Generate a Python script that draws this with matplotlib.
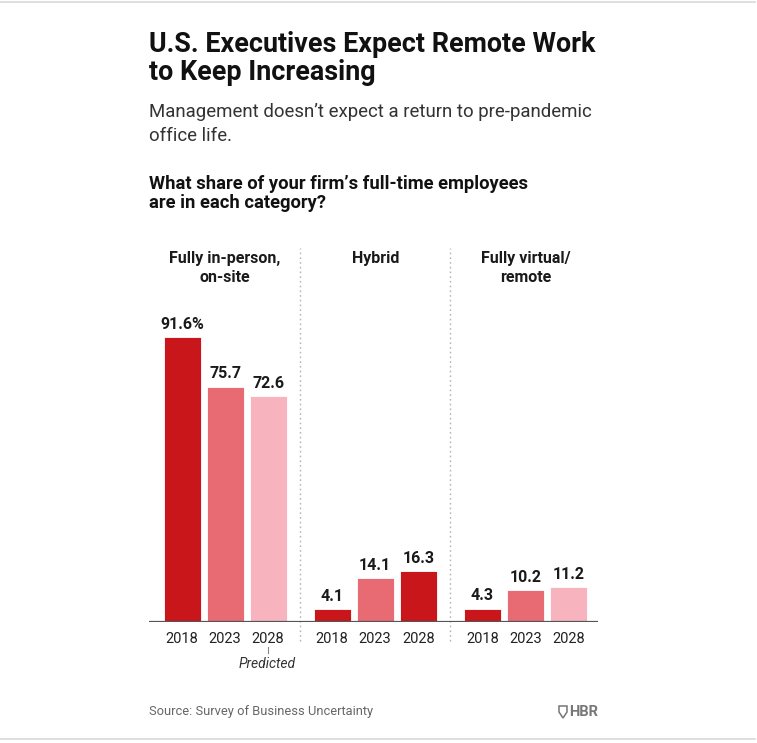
import numpy as np
import matplotlib
matplotlib.use("Agg")
import matplotlib.pyplot as plt
from matplotlib.patches import Polygon
from matplotlib.lines import Line2D

# data
categories = ["Fully in-person,\non-site", "Hybrid", "Fully virtual/\nremote"]
years = ["2018", "2023", "2028"]
values = [
    [91.6, 75.7, 72.6],
    [4.1, 14.1, 16.3],
    [4.3, 10.2, 11.2],
]
value_labels = [
    ["91.6%", "75.7", "72.6"],
    ["4.1", "14.1", "16.3"],
    ["4.3", "10.2", "11.2"],
]

DARK = "#c8161a"
MID = "#e86a72"
LIGHT = "#f7b4be"
bar_colors = [
    [DARK, MID, LIGHT],
    [DARK, MID, DARK],
    [DARK, MID, LIGHT],
]

W, H = 757, 743
plt.rcParams["font.family"] = ["Roboto", "DejaVu Sans"]

def fx(px):
    return px / W

def fy(py):
    return 1 - py / H

fig = plt.figure(figsize=(W / 100, H / 100), dpi=100)

# axes: baseline at y=622 px, x from 149 to 598 px
ax = fig.add_axes([fx(149), fy(622), 449 / W, 382 / H])
ax.set_xlim(-0.77, 9.67)
ax.set_ylim(0, 382 / 3.11)
for s in ax.spines.values():
    s.set_visible(False)
ax.set_yticks([])

group_step = 3.49
width = 0.86
centers = []
for g in range(len(categories)):
    xs = g * group_step + np.arange(len(years))
    centers.extend(xs)
    ax.bar(xs, values[g], width=width, color=bar_colors[g],
           edgecolor="white", linewidth=0.6, zorder=2)
    for x, v, lab in zip(xs, values[g], value_labels[g]):
        ax.annotate(lab, (x, v), xytext=(0, 4), textcoords="offset points",
                    ha="center", va="bottom", fontsize=11.5,
                    fontweight="bold", color="#1a1a1a")
    ax.text(g * group_step + 1, (622 - 251) / 3.11, categories[g],
            ha="center", va="top", fontsize=11.5, fontweight="bold",
            color="#1a1a1a", linespacing=1.3)

ax.set_xticks(centers, labels=years * len(categories))
ax.tick_params(axis="x", length=0, pad=7, labelsize=10.5, labelcolor="#222222")
ax.axhline(0, color="#555555", lw=1.6, zorder=3)

# dotted separators between groups
sep_x = [2 + (group_step - 2) / 2, group_step + 2 + (group_step - 2) / 2]
ax.vlines(sep_x, -19 / 3.11, (622 - 248) / 3.11, colors="#b5b5b5",
          linestyles=(0, (1.2, 2.2)), lw=1, clip_on=False)

# "Predicted" note under the first 2028 tick
fig.add_artist(Line2D([fx(267.5), fx(267.5)], [fy(647), fy(653)],
                      color="#888888", lw=0.8))
fig.text(fx(267.5), fy(664), "Predicted", ha="center", va="center",
         fontsize=10, style="italic", color="#333333")

# titles
fig.text(fx(149), fy(58.5), "U.S. Executives Expect Remote Work\nto Keep Increasing",
         ha="left", va="center", fontsize=19.4, fontweight="bold",
         color="#111111", linespacing=1.08)
fig.text(fx(149), fy(124), "Management doesn\u2019t expect a return to pre-pandemic\noffice life.",
         ha="left", va="center", fontsize=13.4, color="#333333", linespacing=1.38)
fig.text(fx(149), fy(193.5), "What share of your firm\u2019s full-time employees\nare in each category?",
         ha="left", va="center", fontsize=13.2, fontweight="bold",
         color="#111111", linespacing=1.12)

# footer
fig.text(fx(149), fy(712), "Source: Survey of Business Uncertainty", ha="left",
         va="center", fontsize=9.3, color="#666666")
fig.text(fx(598), fy(712), "HBR", ha="right", va="center", fontsize=10.5,
         fontweight="bold", color="#777777")
shield = [(559, 706), (567, 706), (567, 712), (563, 718), (559, 712)]
fig.add_artist(Polygon([(fx(x), fy(y)) for x, y in shield], closed=True,
                       fill=False, edgecolor="#777777", lw=1.1))

# thin border lines top and bottom
for yy in (2, 739):
    fig.add_artist(Line2D([0, fx(755)], [fy(yy), fy(yy)], color="#d9d9d9", lw=1.2))

fig.savefig("out.png", dpi=100)
